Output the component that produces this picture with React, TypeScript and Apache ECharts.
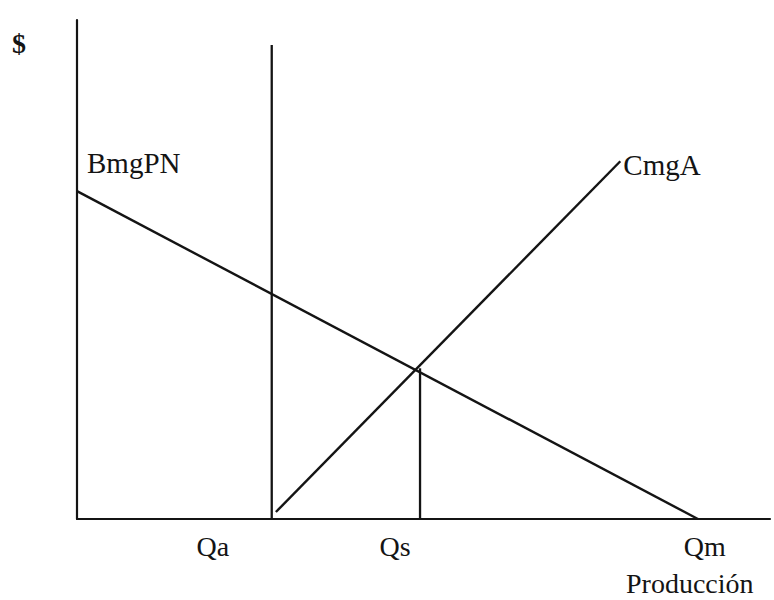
import React, { useEffect, useRef } from "react";
import * as echarts from "echarts";

// Data (axis units 0..100)
const xMax = 100;
const yMax = 100;
const bmgPN: number[][] = [[0, 65.7], [89.6, 0]];
const cmgA: number[][] = [[28.7, 1.4], [78.4, 71.7]];
const qaLine: number[][] = [[28.1, 0], [28.1, 95]];
const qsLine: number[][] = [[49.5, 0], [49.5, 30.2]];
const tickValues: number[] = [19.6, 45.9, 90.6];
const tickLabels: string[] = ["Qa", "Qs", "Qm"];
const seriesNames: string[] = ["BmgPN", "CmgA"];
const yAxisName = "$";
const xAxisName = "Producción";

const FONT = "Liberation Serif";
const INK = "#141414";

export default function App() {
  const ref = useRef<HTMLDivElement>(null);
  useEffect(() => {
    if (!ref.current) return;
    const chart = echarts.init(ref.current, undefined, { renderer: "svg" });
    const lineStyle = { color: INK, width: 2.4 };
    chart.setOption({
      animation: false,
      backgroundColor: "#ffffff",
      textStyle: { fontFamily: FONT },
      grid: { left: 77, right: 4, top: 20, bottom: 81, containLabel: false },
      xAxis: {
        type: "value",
        min: 0,
        max: xMax,
        splitLine: { show: false },
        axisTick: { show: false },
        axisLine: { show: true, onZero: false, lineStyle: { color: INK, width: 2.2 } },
        axisLabel: {
          show: true,
          customValues: tickValues,
          formatter: (v: number) => {
            const i = tickValues.findIndex((t) => Math.abs(t - v) < 1e-6);
            return i >= 0 ? tickLabels[i] : "";
          },
          margin: 13,
          fontFamily: FONT,
          fontSize: 28,
          color: INK,
        },
      },
      yAxis: {
        type: "value",
        min: 0,
        max: yMax,
        splitLine: { show: false },
        axisTick: { show: false },
        axisLabel: { show: false },
        axisLine: { show: true, onZero: false, lineStyle: { color: INK, width: 2.2 } },
      },
      series: [
        {
          name: seriesNames[0],
          type: "line",
          data: bmgPN,
          symbol: "none",
          silent: true,
          lineStyle,
        },
        {
          name: seriesNames[1],
          type: "line",
          data: cmgA,
          symbol: "none",
          silent: true,
          lineStyle,
          endLabel: {
            show: true,
            formatter: seriesNames[1],
            fontFamily: FONT,
            fontSize: 29,
            color: INK,
            distance: 3,
            offset: [0, 4],
          },
        },
        {
          name: "Qa",
          type: "line",
          data: qaLine,
          symbol: "none",
          silent: true,
          lineStyle: { color: INK, width: 2.3 },
        },
        {
          name: "Qs",
          type: "line",
          data: qsLine,
          symbol: "none",
          silent: true,
          lineStyle: { color: INK, width: 2.3 },
        },
      ],
      graphic: [
        {
          type: "text",
          left: 12,
          top: 29,
          style: { text: yAxisName, fontFamily: FONT, fontSize: 28, fontWeight: "bold", fill: INK },
        },
        {
          type: "text",
          x: 87,
          y: 163,
          style: {
            text: seriesNames[0],
            fontFamily: FONT,
            fontSize: 29,
            fill: INK,
            verticalAlign: "middle",
          },
        },
        {
          type: "text",
          x: 626,
          y: 583,
          style: {
            text: xAxisName,
            fontFamily: FONT,
            fontSize: 28,
            fill: INK,
            verticalAlign: "middle",
          },
        },
      ],
    });
    return () => chart.dispose();
  }, []);
  return (
    <div
      ref={ref}
      style={{ position: "absolute", left: 0, top: 0, width: 774, height: 600, background: "#fff" }}
    />
  );
}
